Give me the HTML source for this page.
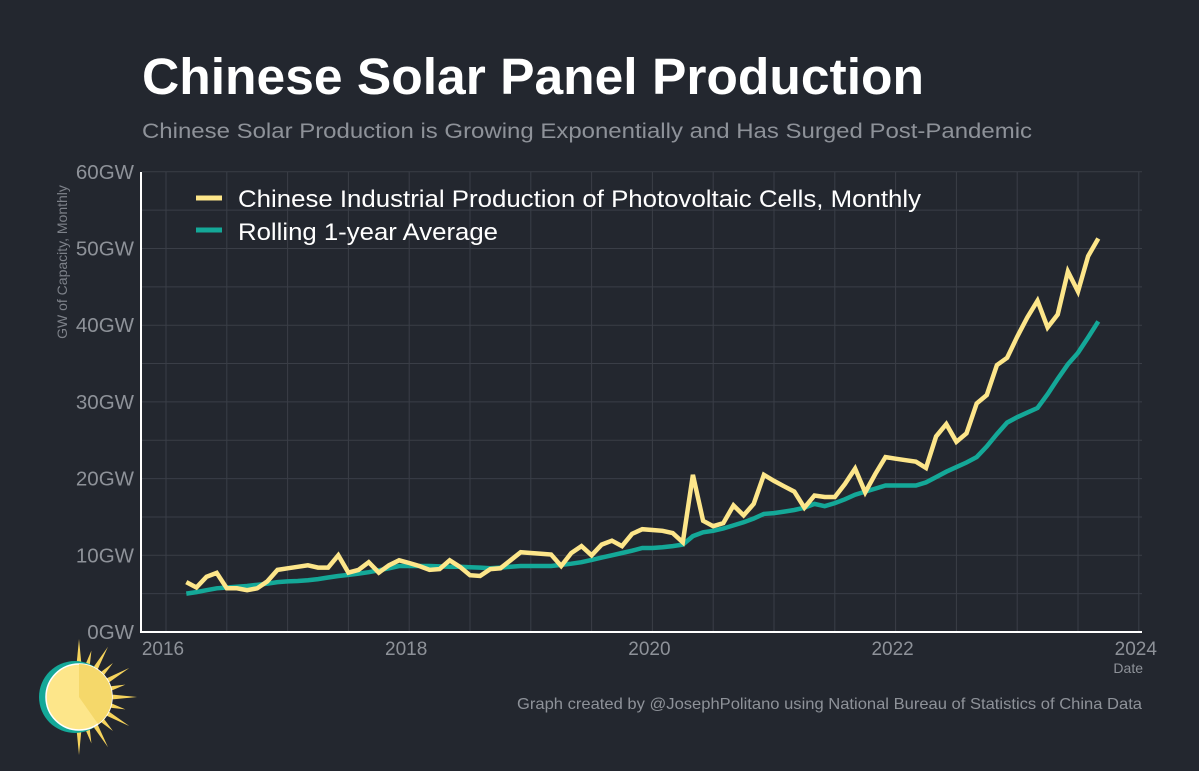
<!DOCTYPE html>
<html><head><meta charset="utf-8"><style>
html,body{margin:0;padding:0;background:#23272f;}
body{width:1199px;height:766px;overflow:hidden;font-family:"Liberation Sans",sans-serif;}
</style></head><body>
<svg id="chart" width="1199" height="766" xmlns="http://www.w3.org/2000/svg">
<rect width="1199" height="766" fill="#23272f"/>
<text x="142" y="94" font-size="51" font-weight="bold" fill="#ffffff" textLength="782" lengthAdjust="spacingAndGlyphs">Chinese Solar Panel Production</text>
<text x="142" y="138" font-size="21" fill="#8e9299" textLength="890" lengthAdjust="spacingAndGlyphs">Chinese Solar Production is Growing Exponentially and Has Surged Post-Pandemic</text>
<text transform="translate(67,262) rotate(-90)" text-anchor="middle" font-size="14" fill="#7d8189">GW of Capacity, Monthly</text>
<g id="grid"></g>
<g id="yticks"></g>
<g id="xticks"></g>
<g id="series"></g>
<line x1="141" y1="172" x2="141" y2="633" stroke="#ffffff" stroke-width="2"/>
<line x1="141" y1="632" x2="1142" y2="632" stroke="#ffffff" stroke-width="2"/>
<text x="1143" y="673" text-anchor="end" font-size="14" fill="#8e9299">Date</text>
<g>
<line x1="196" y1="198" x2="222" y2="198" stroke="#fde68a" stroke-width="5"/>
<text x="238" y="207" font-size="24" fill="#ffffff" textLength="683" lengthAdjust="spacingAndGlyphs">Chinese Industrial Production of Photovoltaic Cells, Monthly</text>
<line x1="196" y1="230" x2="222" y2="230" stroke="#14a898" stroke-width="5"/>
<text x="238" y="240" font-size="24" fill="#ffffff" textLength="260" lengthAdjust="spacingAndGlyphs">Rolling 1-year Average</text>
</g>
<text x="1142" y="709" text-anchor="end" font-size="16" fill="#8e9299" textLength="625" lengthAdjust="spacingAndGlyphs">Graph created by @JosephPolitano using National Bureau of Statistics of China Data</text>
<g>
<g id="rays" fill="#f5d35c"></g>
<circle cx="75" cy="697" r="36" fill="#14a898"/>
<circle cx="79" cy="697" r="33" fill="#fde68a" stroke="#ffffff" stroke-width="1.5"/>
<path d="M79,697 L79,664 A33,33 0 0,1 98,724 Z" fill="#f5d86a"/>
</g>
</svg>
<script>
const yTicks=[0,10,20,30,40,50,60];
const yLabels=["0GW","10GW","20GW","30GW","40GW","50GW","60GW"];
const xTicks=[2016,2018,2020,2022,2024];
const startYear=2016, startMonth=2; // March 2016 (0-indexed month)
const monthly=[6.5,5.8,7.2,7.7,5.7,5.7,5.45,5.7,6.6,8.1,
8.3,8.5,8.7,8.4,8.4,10.0,7.75,8.1,9.1,7.75,8.7,9.35,
9.0,8.6,8.1,8.2,9.35,8.5,7.4,7.3,8.2,8.3,9.35,10.4,
10.3,10.2,10.1,8.6,10.3,11.2,10.0,11.4,11.9,11.2,12.8,13.4,
13.3,13.2,12.9,11.7,20.5,14.5,13.8,14.2,16.5,15.2,16.7,20.5,
19.7,19.0,18.3,16.2,17.8,17.6,17.6,19.3,21.3,18.2,20.6,22.8,
22.6,22.4,22.2,21.4,25.5,27.1,24.8,25.9,29.8,30.9,34.8,35.75,
38.5,41.0,43.2,39.7,41.4,47.0,44.4,49.0,51.3];
const rolling=[5.0,5.2,5.45,5.7,5.8,5.9,6.0,6.15,6.3,6.5,
6.6,6.65,6.75,6.9,7.1,7.3,7.45,7.6,7.8,8.05,8.3,8.6,
8.6,8.6,8.6,8.55,8.5,8.5,8.45,8.4,8.3,8.4,8.5,8.6,
8.6,8.6,8.6,8.75,8.9,9.1,9.4,9.7,10.0,10.3,10.6,10.95,
10.95,11.05,11.2,11.4,12.5,13.0,13.2,13.5,13.9,14.3,14.8,15.4,
15.5,15.7,15.9,16.2,16.7,16.4,16.8,17.3,17.9,18.3,18.7,19.1,
19.1,19.1,19.1,19.5,20.2,20.9,21.5,22.1,22.8,24.2,25.8,27.3,
28.0,28.6,29.2,31.0,33.0,34.9,36.4,38.4,40.5];
const NS="http://www.w3.org/2000/svg";
const X=t=>166+(t-2016)*121.6;
const Y=v=>632-v*7.67;
const tOf=i=>startYear+(startMonth+i)/12;
function mk(tag,attrs,parent){const e=document.createElementNS(NS,tag);for(const k in attrs)e.setAttribute(k,attrs[k]);parent.appendChild(e);return e;}
const grid=document.getElementById('grid');
for(let v=5;v<=60;v+=5){const l=mk('line',{x1:142,x2:1142,y1:Y(v),y2:Y(v),stroke:'#3a3e47','stroke-width':1},grid);

}
for(let t=2016;t<=2024;t+=0.5){const l=mk('line',{x1:X(t),x2:X(t),y1:172,y2:632,stroke:'#3a3e47','stroke-width':1},grid);

}
const yt=document.getElementById('yticks');
yTicks.forEach((v,i)=>{const e=mk('text',{x:134,y:Y(v)+7,'text-anchor':'end','font-size':20.5,fill:'#8e9299'},yt);e.textContent=yLabels[i];

});
const xt=document.getElementById('xticks');
xTicks.forEach(t=>{const e=mk('text',{x:X(t)-3,y:655,'text-anchor':'middle','font-size':19,fill:'#8e9299'},xt);e.textContent=t;

});
const ser=document.getElementById('series');
function line(arr,color,name){const d=arr.map((v,i)=>(i?'L':'M')+X(tOf(i)).toFixed(1)+','+Y(v).toFixed(1)).join(' ');
const p=mk('path',{d:d,fill:'none',stroke:color,'stroke-width':4.5,'stroke-linejoin':'miter','stroke-miterlimit':3},ser);

}
line(rolling,'#14a898','rolling-average-line');
line(monthly,'#fde68a','monthly-production-line');
const rays=document.getElementById('rays');
for(let a=-90;a<=90;a+=15){const r=a*Math.PI/180,len=(a%30===0)?58:48,w=0.09;
const cx=79,cy=697;
const pts=[[cx+30*Math.cos(r-w),cy+30*Math.sin(r-w)],[cx+len*Math.cos(r),cy+len*Math.sin(r)],[cx+30*Math.cos(r+w),cy+30*Math.sin(r+w)]];
const p=mk('polygon',{points:pts.map(q=>q.join(',')).join(' ')},rays);

}
</script>
</body></html>
